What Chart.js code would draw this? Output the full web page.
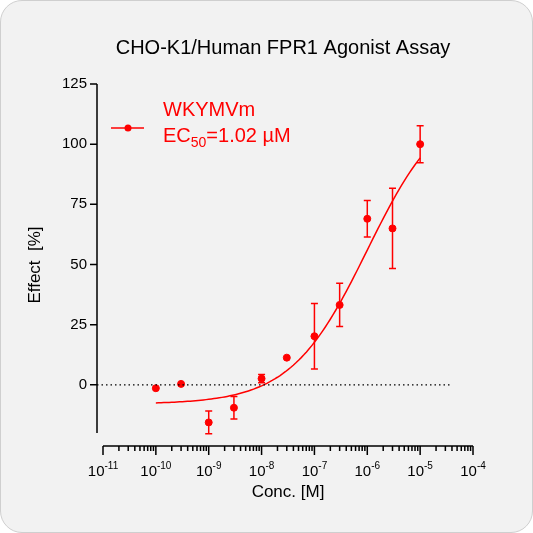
<!DOCTYPE html>
<html>
<head>
<meta charset="utf-8">
<script src="https://cdn.jsdelivr.net/npm/chart.js@4"></script>
<style>
  body { margin: 0; background: #fff; }
  .card { position: absolute; left: 0; top: 0; width: 531px; height: 531px; background: #f2f2f2;
          border: 1px solid #cfcfcf; border-radius: 22px; }
  canvas { position: absolute; left: 0; top: 0; }
</style>
</head>
<body>
<div class="card"></div>
<canvas id="chart" width="533" height="533"></canvas>
<script>
// measured data
const concentrations = [1e-10, 3e-10, 1e-9, 3e-9, 1e-8, 3e-8, 1e-7, 3e-7, 1e-6, 3e-6, 1e-5];
const effects = [-1.4, 0.4, -15.6, -9.5, 2.6, 11.3, 20.2, 33.2, 69, 65, 100];
const errors = [0, 0, 4.7, 4.7, 1.7, 0, 13.6, 9, 7.6, 16.7, 7.7];
const yTicks = [0, 25, 50, 75, 100, 125];
const xDecades = [-11, -10, -9, -8, -7, -6, -5, -4];

// fit parameters (four-parameter logistic)
const fitBottom = -8, fitTop = 120, fitLogEC50 = -6, fitHill = 0.6;
const curvePoints = [];
for (let e = -10; e <= -5.0001 + 0.05; e += 0.05) {
    curvePoints.push({ x: Math.pow(10, e), y: fitBottom + (fitTop - fitBottom) / (1 + Math.pow(10, (fitLogEC50 - e) * fitHill)) });
}

const RED = '#ff0000';
const FONT = 'Arial, "Liberation Sans", sans-serif';

const drawPlugin = {
    id: 'prismAxes',
    afterDatasetsDraw(chart) {
        const ctx = chart.ctx;
        const xs = chart.scales.x, ys = chart.scales.y;
        const area = chart.chartArea;
        ctx.save();

        // error bars
        ctx.strokeStyle = RED;
        ctx.lineWidth = 1.5;
        concentrations.forEach((c, i) => {
            if (!errors[i]) return;
            const px = xs.getPixelForValue(c);
            const y1 = ys.getPixelForValue(effects[i] + errors[i]);
            const y2 = ys.getPixelForValue(effects[i] - errors[i]);
            ctx.beginPath();
            ctx.moveTo(px, y1); ctx.lineTo(px, y2);
            ctx.moveTo(px - 3.5, y1); ctx.lineTo(px + 3.5, y1);
            ctx.moveTo(px - 3.5, y2); ctx.lineTo(px + 3.5, y2);
            ctx.stroke();
        });

        // dotted zero line
        const y0 = ys.getPixelForValue(0);
        ctx.strokeStyle = '#000';
        ctx.lineWidth = 1.2;
        ctx.setLineDash([1.5, 3]);
        ctx.beginPath();
        ctx.moveTo(area.left - 6, y0); ctx.lineTo(xs.getPixelForValue(4e-5), y0);
        ctx.stroke();
        ctx.setLineDash([]);

        // y axis
        const yAxisX = area.left - 6;
        ctx.lineWidth = 1.5;
        ctx.beginPath();
        ctx.moveTo(yAxisX, ys.getPixelForValue(125)); ctx.lineTo(yAxisX, area.bottom);
        yTicks.forEach(t => {
            const py = ys.getPixelForValue(t);
            ctx.moveTo(yAxisX - 7, py); ctx.lineTo(yAxisX, py);
        });
        ctx.stroke();
        ctx.fillStyle = '#000';
        ctx.font = '15px ' + FONT;
        ctx.textAlign = 'right';
        ctx.textBaseline = 'middle';
        yTicks.forEach(t => ctx.fillText(String(t), yAxisX - 10, ys.getPixelForValue(t)));

        // x axis
        const xAxisY = area.bottom + 13;
        ctx.beginPath();
        ctx.moveTo(area.left, xAxisY); ctx.lineTo(area.right, xAxisY);
        xDecades.forEach((d, i) => {
            const px = xs.getPixelForValue(Math.pow(10, d));
            ctx.moveTo(px, xAxisY); ctx.lineTo(px, xAxisY + 9);
            if (i < xDecades.length - 1) {
                for (let m = 2; m <= 9; m++) {
                    const pm = xs.getPixelForValue(m * Math.pow(10, d));
                    ctx.moveTo(pm, xAxisY); ctx.lineTo(pm, xAxisY + 5);
                }
            }
        });
        ctx.stroke();
        ctx.textBaseline = 'alphabetic';
        xDecades.forEach(d => {
            const px = xs.getPixelForValue(Math.pow(10, d));
            ctx.font = '15px ' + FONT;
            const w1 = ctx.measureText('10').width;
            ctx.font = '10px ' + FONT;
            const sup = '-' + Math.abs(d);
            const w2 = ctx.measureText(sup).width;
            const left = px - (w1 + w2) / 2;
            ctx.textAlign = 'left';
            ctx.font = '15px ' + FONT;
            ctx.fillText('10', left, xAxisY + 30);
            ctx.font = '10px ' + FONT;
            ctx.fillText(sup, left + w1, xAxisY + 23);
        });

        // axis titles and title
        ctx.textAlign = 'center';
        ctx.font = '17px ' + FONT;
        ctx.fillText('Conc. [M]', 288, 497);
        ctx.save();
        ctx.translate(40, 265);
        ctx.rotate(-Math.PI / 2);
        ctx.fillText('Effect  [%]', 0, 0);
        ctx.restore();
        ctx.font = '20px ' + FONT;
        ctx.fillText('CHO-K1/Human FPR1 Agonist Assay', 283, 54);

        // legend
        ctx.strokeStyle = RED;
        ctx.fillStyle = RED;
        ctx.lineWidth = 1.5;
        ctx.beginPath();
        ctx.moveTo(111, 128); ctx.lineTo(144, 128); ctx.stroke();
        ctx.beginPath(); ctx.arc(128, 128, 3.5, 0, Math.PI * 2); ctx.fill();
        ctx.textAlign = 'left';
        ctx.font = '20px ' + FONT;
        ctx.fillText('WKYMVm', 163, 116);
        ctx.fillText('EC', 163, 142);
        let w = ctx.measureText('EC').width;
        ctx.font = '14px ' + FONT;
        ctx.fillText('50', 163 + w, 147);
        w += ctx.measureText('50').width;
        ctx.font = '20px ' + FONT;
        ctx.fillText('=1.02 µM', 163 + w, 142);
        ctx.restore();
    }
};

new Chart(document.getElementById('chart'), {
    type: 'scatter',
    data: {
        datasets: [
            {
                label: 'WKYMVm',
                data: concentrations.map((c, i) => ({ x: c, y: effects[i] })),
                backgroundColor: RED,
                borderColor: RED,
                pointRadius: 3.5,
                showLine: false
            },
            {
                label: 'fit',
                data: curvePoints,
                borderColor: RED,
                borderWidth: 1.5,
                pointRadius: 0,
                showLine: true
            }
        ]
    },
    options: {
        responsive: false,
        animation: false,
        layout: { padding: { left: 103, right: 60, top: 84, bottom: 100 } },
        plugins: { legend: { display: false }, tooltip: { enabled: false } },
        scales: {
            x: { type: 'logarithmic', min: 1e-11, max: 1e-4, display: false },
            y: { min: -20, max: 125, display: false }
        }
    },
    plugins: [drawPlugin]
});
</script>
</body>
</html>
